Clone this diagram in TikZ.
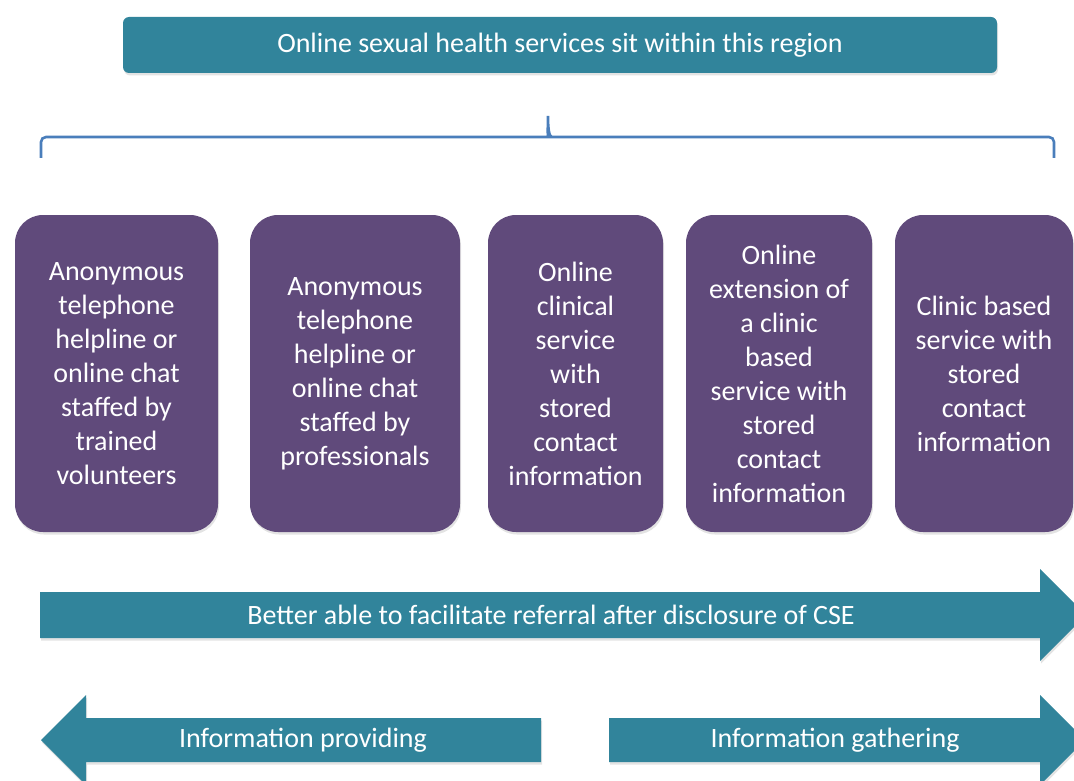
\documentclass[tikz,border=0pt]{standalone}
\usepackage{fontspec}
\setmainfont{Carlito}
\usetikzlibrary{shadows}
\definecolor{Teal_bar}{RGB}{49, 132, 155}
\definecolor{Purple_box}{RGB}{96, 74, 123}
\definecolor{Brace_blue}{RGB}{74, 126, 187}

\begin{document}
\begin{tikzpicture}[x=1pt, y=-1pt,
    softshadow/.style={drop shadow={opacity=0.22, shadow xshift=1pt, shadow yshift=-2.5pt}},
    servicebox/.style={fill=Purple_box, rounded corners=28pt, softshadow, text=white,
        align=center, font=\fontsize{28}{34}\selectfont, minimum height=317pt, inner sep=0pt},
    barlabel/.style={text=white, font=\fontsize{28}{34}\selectfont}]
    \useasboundingbox (0,0) rectangle (1074,781);

    %% Banner
    \node[fill=Teal_bar, rounded corners=6pt, softshadow, minimum width=874pt,
        minimum height=56pt, inner sep=0pt, barlabel] (banner) at (560,45)
        {Online sexual health services sit within this region};

    %% Brace
    \draw[Brace_blue, line width=2.6pt]
    [rounded corners=5pt] (41,158) |- (544,137)
    [sharp corners] .. controls (547,137) and (548,128) .. (548,116)
    .. controls (548,128) and (549,137) .. (552,137)
    [rounded corners=5pt] -| (1054,158);

    %% Service boxes
    \node[servicebox, minimum width=203pt] (volunteers) at (116.5,373.5)
        {Anonymous\\telephone\\helpline or\\online chat\\staffed by\\trained\\volunteers};
    \node[servicebox, minimum width=210pt] (professionals) at (355,373.5)
        {Anonymous\\telephone\\helpline or\\online chat\\staffed by\\professionals};
    \node[servicebox, minimum width=175pt] (onlineclinical) at (575.5,373.5)
        {Online\\clinical\\service\\with\\stored\\contact\\information};
    \node[servicebox, minimum width=186pt] (extension) at (779,373.5)
        {Online\\extension of\\a clinic\\based\\service with\\stored\\contact\\information};
    \node[servicebox, minimum width=178pt] (clinicbased) at (984,373.5)
        {Clinic based\\service with\\stored\\contact\\information};

    %% Arrows
    % referral
    \fill[Teal_bar, softshadow] (40,592) -- (1040,592) -- (1040,569) -- (1086,615)
        -- (1040,661) -- (1040,638) -- (40,638) -- cycle;
    \node[barlabel] (referral) at (551,615)
        {Better able to facilitate referral after disclosure of CSE};
    % providing
    \fill[Teal_bar, softshadow] (541,718) -- (86,718) -- (86,695) -- (41,740)
        -- (86,785) -- (86,762) -- (541,762) -- cycle;
    \node[barlabel] (providing) at (303,740) {Information providing};
    % gathering
    \fill[Teal_bar, softshadow] (609,718) -- (1040,718) -- (1040,695) -- (1085,740)
        -- (1040,785) -- (1040,762) -- (609,762) -- cycle;
    \node[barlabel] (gathering) at (835,740) {Information gathering};

\end{tikzpicture}
\end{document}
